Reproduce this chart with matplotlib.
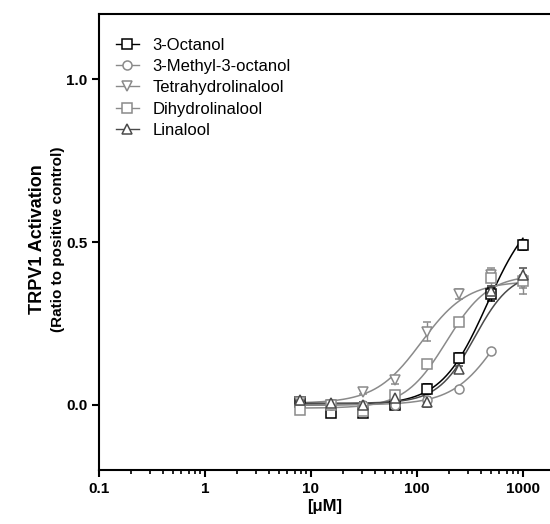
import numpy as np
import matplotlib.pyplot as plt

plt.rcParams['font.family'] = ['Liberation Sans', 'DejaVu Sans']

# concentrations (uM), two-fold dilution series
conc = [7.8, 15.6, 31.25, 62.5, 125, 250, 500, 1000]

names = ["3-Octanol", "3-Methyl-3-octanol", "Tetrahydrolinalool", "Dihydrolinalool", "Linalool"]

octanol = [0.01, -0.025, -0.025, 0.0, 0.05, 0.145, 0.34, 0.49]
octanol_err = [0.01, 0.01, 0.01, 0.01, 0.015, 0.015, 0.02, 0.015]

methyl_octanol = [0.0, 0.0, 0.0, 0.0, 0.015, 0.05, 0.165]
methyl_octanol_err = [0.01, 0.01, 0.01, 0.01, 0.01, 0.005, 0.005]

tetrahydro = [0.01, 0.0, 0.04, 0.075, 0.225, 0.34, 0.40, 0.37]
tetrahydro_err = [0.01, 0.01, 0.005, 0.01, 0.03, 0.015, 0.02, 0.03]

dihydro = [-0.015, 0.0, -0.02, 0.03, 0.125, 0.255, 0.39, 0.38]
dihydro_err = [0.01, 0.01, 0.005, 0.01, 0.005, 0.005, 0.025, 0.02]

linalool = [0.015, 0.005, 0.0, 0.02, 0.01, 0.11, 0.35, 0.40]
linalool_err = [0.01, 0.01, 0.01, 0.01, 0.015, 0.01, 0.015, 0.02]

# fitted dose-response parameters (bottom, top, EC50, hill)
fit_bottom = [0.0, 0.0, 0.005, -0.01, 0.005]
fit_top = [0.62, 0.40, 0.38, 0.40, 0.41]
fit_ec50 = [460, 600, 110, 190, 350]
fit_hill = [2.0, 2.0, 2.0, 2.2, 2.5]

series = [octanol, methyl_octanol, tetrahydro, dihydro, linalool]
errors = [octanol_err, methyl_octanol_err, tetrahydro_err, dihydro_err, linalool_err]
markers = ['s', 'o', 'v', 's', '^']
colors = ['black', '#8a8a8a', '#8a8a8a', '#8a8a8a', '#4a4a4a']


def hill(x, bottom, top, ec50, h):
    return bottom + (top - bottom) / (1 + (ec50 / x) ** h)


fig = plt.figure(figsize=(5.5, 5.24), dpi=100)
ax = fig.add_axes([0.18, 0.103, 0.82, 0.870])

for i in range(len(names)):
    xs = np.array(conc[:len(series[i])])
    ys = np.array(series[i])
    ax.errorbar(xs, ys, yerr=errors[i], fmt=markers[i], color=colors[i],
                mfc='white', mec=colors[i], ms=6.5, mew=1.1, capsize=3,
                elinewidth=1, zorder=3)
    xf = np.logspace(np.log10(xs[0]), np.log10(xs[-1]), 200)
    ax.plot(xf, hill(xf, fit_bottom[i], fit_top[i], fit_ec50[i], fit_hill[i]),
            color=colors[i], lw=1.1, zorder=2)
    # legend handle
    ax.plot([], [], marker=markers[i], color=colors[i], mfc='white', mec=colors[i],
            ms=6.5, mew=1.1, lw=1, label=names[i])

ax.set_xscale('log')
ax.set_xlim(0.1, 1800)
ax.set_ylim(-0.2, 1.2)
ax.set_xticks([0.1, 1, 10, 100, 1000])
ax.set_xticklabels(['0.1', '1', '10', '100', '1000'])
ax.set_yticks([0.0, 0.5, 1.0])
ax.set_yticklabels(['0.0', '0.5', '1.0'])
ax.tick_params(axis='both', which='major', direction='out', length=5, width=1.5,
               labelsize=11)
ax.tick_params(axis='x', which='minor', direction='out', length=3, width=1.2)
for lab in ax.get_xticklabels() + ax.get_yticklabels():
    lab.set_fontweight('bold')

ax.spines['right'].set_visible(False)
for s in ['left', 'bottom', 'top']:
    ax.spines[s].set_linewidth(1.5)

ax.set_xlabel('[\u03bcM]', fontsize=12, fontweight='bold', labelpad=2)

fig.text(0.068, 0.543, 'TRPV1 Activation', rotation=90, fontsize=13,
         fontweight='bold', ha='center', va='center')
fig.text(0.106, 0.543, '(Ratio to positive control)', rotation=90, fontsize=11,
         fontweight='bold', ha='center', va='center')

ax.legend(loc='upper left', frameon=False, fontsize=12, handlelength=1.4,
          labelspacing=0.38, borderaxespad=0.6, handletextpad=0.8,
          bbox_to_anchor=(0.0, 0.985))

fig.savefig('out.png', dpi=100)
